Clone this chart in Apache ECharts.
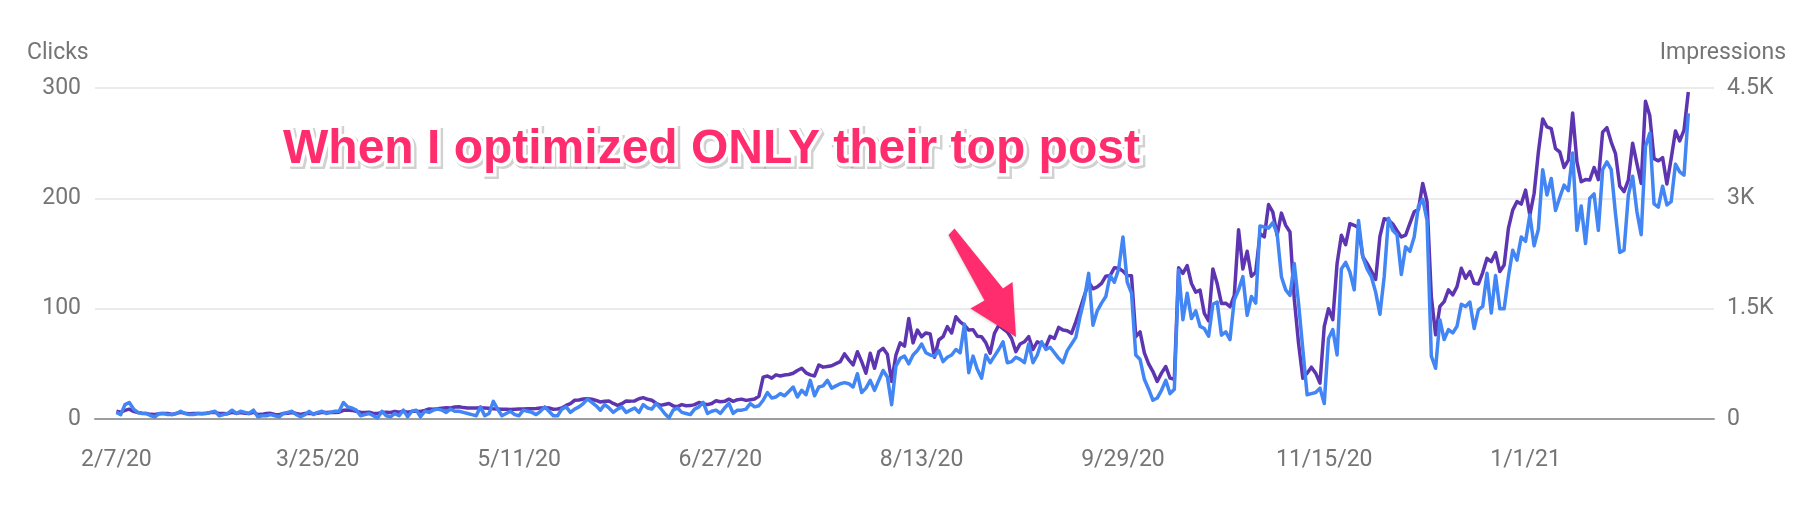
<!DOCTYPE html>
<html><head><meta charset="utf-8">
<script src="https://cdn.jsdelivr.net/npm/echarts@6/dist/echarts.min.js"></script>
<style>html,body{margin:0;padding:0;background:#fff}#chart{width:1820px;height:524px}</style>
</head><body><div id="chart"></div>
<script>
// ---- data ----
const startDate = [2020, 1, 7]; // Feb 7, 2020 (month is 0-based)
const xTickLabels = ['2/7/20','3/25/20','5/11/20','6/27/20','8/13/20','9/29/20','11/15/20','1/1/21'];
const clicksTicks = [0, 100, 200, 300];
const impressionsTicks = [0, 1500, 3000, 4500];

const clicks = [
6,4,13,15,9,6,5,5,3,2,
5,5,4,4,5,7,5,4,4,5,
5,5,6,7,3,4,5,8,5,7,
6,5,8,2,3,3,4,3,2,5,
6,7,4,2,4,7,4,6,7,5,
6,7,7,15,11,10,8,3,4,5,
3,1,7,3,2,5,3,8,2,7,
8,2,7,6,8,9,8,6,9,7,
7,6,5,4,3,11,3,5,16,9,
3,5,7,4,3,8,7,6,4,7,
11,7,3,3,9,11,6,9,11,14,
18,15,12,8,13,10,6,9,11,6,
8,10,6,13,10,9,14,10,5,1,
8,10,6,5,4,9,11,15,5,7,
8,5,10,14,5,8,8,9,14,11,
12,17,24,19,20,23,21,25,29,20,
26,22,35,21,29,30,35,28,30,32,
33,32,29,41,24,28,35,26,35,44,
38,13,48,55,57,50,58,62,68,60,
58,57,62,52,56,58,63,60,86,42,
57,45,37,58,51,57,63,70,51,52,
56,54,51,68,51,58,70,63,65,60,
55,51,62,68,74,93,109,132,85,98,
105,111,130,124,136,165,124,114,58,54,
36,27,17,19,26,35,23,27,135,90,
114,91,98,84,82,75,104,106,76,79,
72,108,117,129,94,111,105,175,174,173,
178,168,129,117,112,141,105,63,22,23,
24,28,14,73,81,58,136,142,133,117,
180,147,136,129,115,95,129,182,171,167,
131,156,152,165,193,199,180,57,46,90,
72,81,78,84,104,102,106,82,99,102,
132,96,130,100,100,129,153,144,165,161,
185,157,172,226,203,218,189,201,212,207,
241,171,193,159,200,204,171,226,233,226,
186,151,153,203,220,188,167,247,259,195,
192,211,194,197,231,224,221,277
];

const impressions = [
105,92,118,134,104,88,78,74,63,61,
72,76,74,62,77,90,78,73,76,74,
72,77,88,92,74,76,73,91,76,88,
77,74,92,61,63,74,77,62,59,76,
78,89,74,62,76,77,73,78,91,88,
92,89,93,118,122,117,104,91,88,93,
76,74,89,92,88,104,91,106,93,104,
105,102,118,136,133,138,147,152,150,162,
166,155,149,151,148,152,150,146,138,135,
131,133,128,132,135,137,139,140,143,148,
153,150,133,135,149,185,210,255,258,272,
276,268,252,231,240,245,212,185,208,244,
243,246,275,290,268,255,214,185,198,210,
178,168,196,180,182,195,225,207,195,210,
249,234,240,270,240,262,270,253,262,272,
308,570,585,555,600,585,598,605,622,660,
690,628,600,585,735,705,714,724,752,780,
885,804,735,915,780,622,894,690,915,960,
880,510,870,1035,990,1365,1035,1209,1119,1170,
1155,840,1074,1119,1256,1170,1390,1320,1275,1209,
1215,1125,1119,1035,894,1164,1275,1230,1185,1095,
915,1020,1050,1119,945,1050,1020,984,1125,1095,
1245,1209,1200,1164,1320,1500,1680,1860,1770,1797,
1845,1941,1950,2055,2050,2010,1950,1947,1119,1185,
900,750,645,510,623,714,555,540,2055,1980,
2085,1842,1725,1752,1436,1335,2040,1842,1571,1575,
1526,1680,2574,2040,2280,1941,1995,2520,2475,2916,
2813,2498,2799,2633,2543,1635,1029,555,623,705,
623,488,1256,1500,1350,2115,2498,2370,2655,2633,
2601,2205,2115,2010,1896,2483,2723,2705,2651,2559,
2475,2501,2660,2817,2850,3203,2955,1665,1145,1530,
1596,1755,1688,1800,2049,1913,2004,1845,1836,1991,
2184,2139,2261,2004,2094,2592,2840,2955,2922,3111,
2772,3066,3630,4080,3970,3948,3675,3630,3420,3519,
4161,3495,3225,3255,3249,3420,3255,3900,3960,3765,
3609,3165,3090,3248,3750,3473,3203,4320,4125,3540,
3510,3555,3195,3540,3915,3780,3926,4446
];

const annotationText = 'When I optimized ONLY their top post';

// ---- build ----
const PAD_BEFORE = 5, PAD_AFTER = 6;
function fmtDate(offset) {
  const d = new Date(Date.UTC(startDate[0], startDate[1], startDate[2] + offset));
  return (d.getUTCMonth() + 1) + '/' + d.getUTCDate() + '/' + String(d.getUTCFullYear()).slice(2);
}
const categories = [];
for (let i = -PAD_BEFORE; i < clicks.length + PAD_AFTER; i++) categories.push(fmtDate(i));

const clickData = clicks.map((v, i) => [i + PAD_BEFORE, v]);
const imprData = impressions.map((v, i) => [i + PAD_BEFORE, v]);

const GRAY = '#757575';
const PINK = '#FF2D6E';
const axisFont = 'Roboto';

const chart = echarts.init(document.getElementById('chart'), null, {renderer: 'canvas'});
chart.setOption({
  animation: false,
  backgroundColor: '#ffffff',
  grid: {left: 95, right: 106, top: 88, bottom: 105, containLabel: false},
  xAxis: {
    type: 'category',
    data: categories,
    boundaryGap: false,
    axisLine: {show: true, lineStyle: {color: '#9e9e9e', width: 2}},
    axisTick: {show: false},
    splitLine: {show: false},
    axisLabel: {
      interval: (idx, val) => xTickLabels.includes(val),
      color: GRAY, fontSize: 23, fontFamily: axisFont, margin: 30
    }
  },
  yAxis: [{
    type: 'value', min: clicksTicks[0], max: clicksTicks[clicksTicks.length - 1],
    interval: clicksTicks[1] - clicksTicks[0],
    axisLine: {show: false}, axisTick: {show: false},
    axisLabel: {color: GRAY, fontSize: 23, fontFamily: axisFont, margin: 14},
    splitLine: {lineStyle: {color: '#ebebeb', width: 2}}
  }, {
    type: 'value', position: 'right',
    min: impressionsTicks[0], max: impressionsTicks[impressionsTicks.length - 1],
    interval: impressionsTicks[1] - impressionsTicks[0],
    axisLine: {show: false}, axisTick: {show: false},
    axisLabel: {color: GRAY, fontSize: 23, fontFamily: axisFont, margin: 13,
      formatter: v => v === 0 ? '0' : (v / 1000) + 'K'},
    splitLine: {show: false}
  }],
  series: [{
    name: 'Impressions', type: 'line', yAxisIndex: 1, data: imprData,
    showSymbol: false, symbol: 'none',
    lineStyle: {color: '#5E35B1', width: 3.5, join: 'round'},
    itemStyle: {color: '#5E35B1'}, z: 2
  }, {
    name: 'Clicks', type: 'line', yAxisIndex: 0, data: clickData,
    showSymbol: false, symbol: 'none',
    lineStyle: {color: '#4285F4', width: 3.5, join: 'round'},
    itemStyle: {color: '#4285F4'}, z: 3
  }],
  graphic: [
    {type: 'text', left: 27, top: 42, z: 10,
     style: {text: 'Clicks', fill: GRAY, font: '23px Roboto'}},
    {type: 'text', right: 34, top: 42, z: 10,
     style: {text: 'Impressions', fill: GRAY, font: '23px Roboto'}},
    {type: 'text', x: 285, y: 152, z: 19,
     style: {text: annotationText, fill: 'rgba(0,0,0,0.18)', font: 'bold 48px "Liberation Sans", Arial, sans-serif',
       stroke: 'rgba(0,0,0,0.18)', lineWidth: 8,
       verticalAlign: 'middle', shadowColor: 'rgba(0,0,0,0.25)', shadowBlur: 5}},
    {type: 'text', x: 283, y: 150, z: 20,
     style: {text: annotationText, fill: PINK, font: 'bold 48px "Liberation Sans", Arial, sans-serif',
       stroke: '#ffffff', lineWidth: 7, strokeFirst: true,
       verticalAlign: 'middle'}},
    {type: 'polygon', z: 20,
     shape: {points: [[954.5, 228.5], [1003, 288.5], [1012.5, 282], [1016, 337], [970.5, 308.5], [984.5, 300.5], [948.5, 235]]},
     style: {fill: PINK, shadowColor: 'rgba(0,0,0,0.2)', shadowBlur: 3, shadowOffsetY: 1}}
  ]
});
</script></body></html>
